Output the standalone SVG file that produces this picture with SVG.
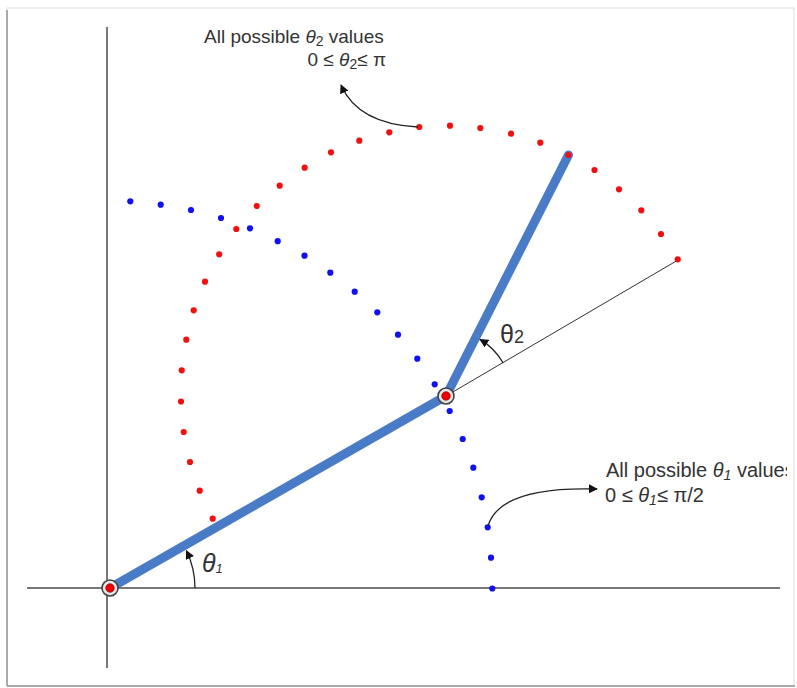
<svg xmlns="http://www.w3.org/2000/svg" width="797" height="688" viewBox="0 0 797 688">
<defs>
<style>
.ax{stroke:#777;stroke-width:2;fill:none}
.thin{stroke:#333;stroke-width:1;fill:none}
.link{stroke:#4a7bc6;stroke-width:9;stroke-linecap:round;fill:none}
.r{fill:#f01010}
.b{fill:#1010f0}
.arc{stroke:#222;stroke-width:1.3;fill:none;marker-end:url(#ah)}
.txt{font-family:"Liberation Sans",Arial,sans-serif;font-size:19px;fill:#333}
.big{font-size:20px}
.it{font-style:italic}
.sub{font-size:14px}
</style>
<marker id="ah" viewBox="0 0 10 10" refX="9" refY="5" markerWidth="9" markerHeight="9" markerUnits="userSpaceOnUse" orient="auto">
<path d="M0,0 L10,5 L0,10 Z" fill="#111"/>
</marker>
<clipPath id="cl"><rect x="0" y="0" width="787" height="688"/></clipPath>
</defs>
<rect width="797" height="688" fill="#fff"/>
<g id="frame">
<rect x="7" y="8" width="787" height="678" fill="#fff" stroke="#ddd" stroke-width="1"/>
<line x1="7" y1="10" x2="7" y2="686" stroke="#aaa" stroke-width="2"/>
<line x1="7" y1="686" x2="795" y2="686" stroke="#aaa" stroke-width="2"/>
</g>
<g id="axes">
<line class="ax" x1="107" y1="27" x2="107" y2="668"/>
<line class="ax" x1="27" y1="588" x2="780" y2="588"/>
</g>
<g id="link1"><line class="link" x1="110" y1="588" x2="446" y2="396"/></g>
<g id="link2"><line class="link" x1="446" y1="396" x2="568.5" y2="155"/></g>
<g id="ext"><line class="thin" x1="446" y1="396" x2="678" y2="260"/></g>
<g id="theta2-dots">
<circle class="r" cx="677.7" cy="259.3" r="3.1"/>
<circle class="r" cx="661" cy="234" r="3.1"/>
<circle class="r" cx="641.3" cy="210.3" r="3.1"/>
<circle class="r" cx="619" cy="189.3" r="3.1"/>
<circle class="r" cx="594.5" cy="170" r="3.1"/>
<circle class="r" cx="568.5" cy="155" r="3.1"/>
<circle class="r" cx="540.3" cy="142.7" r="3.1"/>
<circle class="r" cx="511" cy="133.7" r="3.1"/>
<circle class="r" cx="480.3" cy="128" r="3.1"/>
<circle class="r" cx="450" cy="125.7" r="3.1"/>
<circle class="r" cx="419.3" cy="127" r="3.1"/>
<circle class="r" cx="389.3" cy="132.3" r="3.1"/>
<circle class="r" cx="359.3" cy="140.7" r="3.1"/>
<circle class="r" cx="331" cy="152.3" r="3.1"/>
<circle class="r" cx="304.7" cy="167.7" r="3.1"/>
<circle class="r" cx="279.7" cy="185.7" r="3.1"/>
<circle class="r" cx="256.7" cy="206" r="3.1"/>
<circle class="r" cx="236.3" cy="229" r="3.1"/>
<circle class="r" cx="219.2" cy="254.3" r="3.1"/>
<circle class="r" cx="205" cy="281.7" r="3.1"/>
<circle class="r" cx="193.7" cy="310.3" r="3.1"/>
<circle class="r" cx="186.3" cy="339.7" r="3.1"/>
<circle class="r" cx="181.7" cy="370.3" r="3.1"/>
<circle class="r" cx="181" cy="401.5" r="3.1"/>
<circle class="r" cx="183.7" cy="432" r="3.1"/>
<circle class="r" cx="190" cy="462" r="3.1"/>
<circle class="r" cx="199.7" cy="490.7" r="3.1"/>
<circle class="r" cx="212.7" cy="518.7" r="3.1"/>
</g>
<g id="theta1-dots">
<circle class="b" cx="130.3" cy="201.3" r="3.1"/>
<circle class="b" cx="160.7" cy="204.7" r="3.1"/>
<circle class="b" cx="191" cy="210" r="3.1"/>
<circle class="b" cx="221" cy="218" r="3.1"/>
<circle class="b" cx="250" cy="228.3" r="3.1"/>
<circle class="b" cx="277.7" cy="241.2" r="3.1"/>
<circle class="b" cx="304.5" cy="255.7" r="3.1"/>
<circle class="b" cx="330.3" cy="272.7" r="3.1"/>
<circle class="b" cx="354.7" cy="291.7" r="3.1"/>
<circle class="b" cx="377.3" cy="312.3" r="3.1"/>
<circle class="b" cx="398" cy="334.7" r="3.1"/>
<circle class="b" cx="417.3" cy="358.7" r="3.1"/>
<circle class="b" cx="434.7" cy="384.3" r="3.1"/>
<circle class="b" cx="449.7" cy="411" r="3.1"/>
<circle class="b" cx="462.7" cy="439" r="3.1"/>
<circle class="b" cx="473.3" cy="467.7" r="3.1"/>
<circle class="b" cx="481.7" cy="497.3" r="3.1"/>
<circle class="b" cx="487.7" cy="527.3" r="3.1"/>
<circle class="b" cx="491" cy="557.7" r="3.1"/>
<circle class="b" cx="492.3" cy="588.5" r="3.1"/>
</g>
<g id="joint-base">
<circle cx="110" cy="588" r="8" fill="#e6e6e6" stroke="#444" stroke-width="1.6"/>
<circle cx="110" cy="588" r="4.3" fill="#e00" stroke="#700" stroke-width="0.6"/>
</g>
<g id="joint-elbow">
<circle cx="446" cy="396" r="8" fill="#e6e6e6" stroke="#444" stroke-width="1.6"/>
<circle cx="446" cy="396" r="4.3" fill="#e00" stroke="#700" stroke-width="0.6"/>
</g>
<g id="connectors">
<path class="arc" d="M503.2,363 A66,66 0 0 0 480,339.4"/>
<path class="arc" d="M195,588 A85,85 0 0 0 186.4,550.7"/>
<path class="arc" d="M418,127 Q358,124 341,85"/>
<path class="arc" d="M488,526 Q500,486 597,489"/>
</g>
<g id="label-theta2">
<text class="txt" x="500" y="343" style="font-size:25px">θ<tspan style="font-size:18px">2</tspan></text>
</g>
<g id="label-theta1">
<text class="txt it" x="202" y="572" style="font-size:25px">θ<tspan style="font-size:13px" dy="1">1</tspan></text>
</g>
<g id="note-theta2">
<text class="txt" x="204" y="43">All possible <tspan class="it">θ</tspan><tspan class="sub" dy="3">2</tspan><tspan dy="-3"> values</tspan></text>
<text class="txt" x="386" y="66" text-anchor="end">0 ≤ <tspan class="it">θ</tspan><tspan class="sub" dy="3">2</tspan><tspan dy="-3">≤ π</tspan></text>
</g>
<g id="note-theta1" clip-path="url(#cl)">
<text class="txt big" x="606" y="477">All possible <tspan class="it">θ</tspan><tspan class="sub it" dy="3">1</tspan><tspan dy="-3"> values</tspan></text>
<text class="txt big" x="605" y="502">0 ≤ <tspan class="it">θ</tspan><tspan class="sub it" dy="3">1</tspan><tspan dy="-3">≤ π/2</tspan></text>
</g>
</svg>
